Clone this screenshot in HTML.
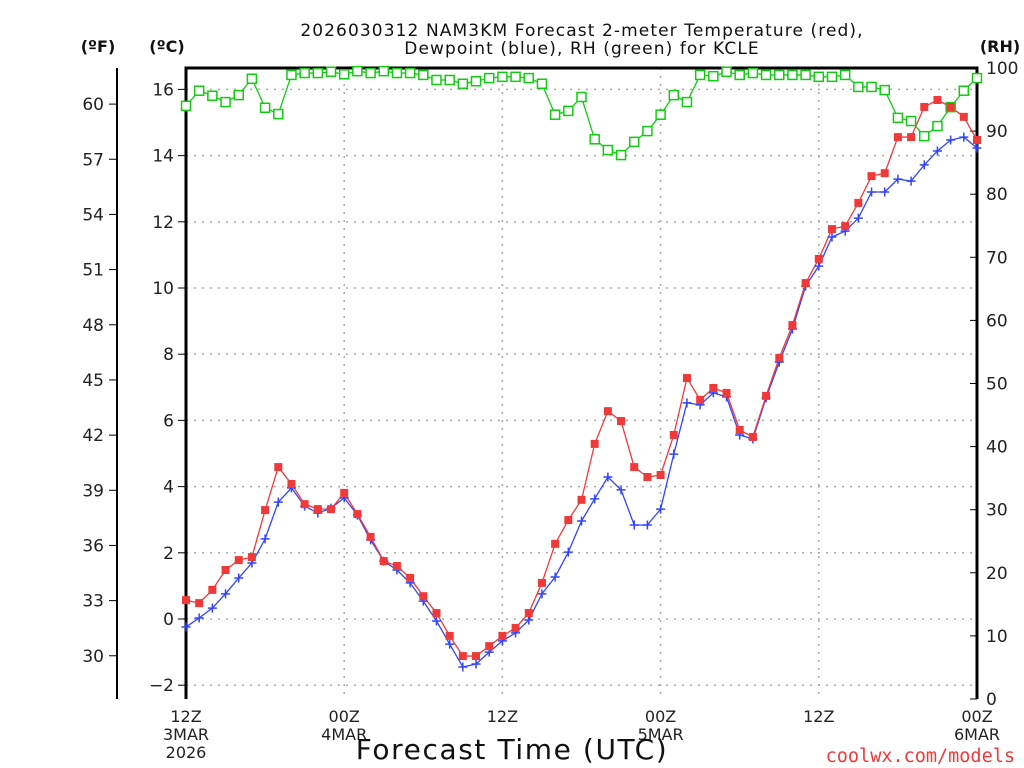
<!DOCTYPE html>
<html><head><meta charset="utf-8"><style>
body{margin:0;background:#fff;width:1024px;height:768px;overflow:hidden}
svg{display:block;font-family:"DejaVu Sans","Liberation Sans",sans-serif}
</style></head><body>
<svg id="c" width="1024" height="768">
<g id="grid"></g><g id="axes"></g><g id="series"></g><g id="labels"></g>
</svg>
<script>
const hours = Array.from({length:61},(_,i)=>i);
const tempC = [0.57,0.48,0.88,1.48,1.78,1.87,3.29,4.59,4.08,3.47,3.32,3.32,3.81,3.17,2.48,1.75,1.6,1.24,0.69,0.18,-0.51,-1.12,-1.12,-0.82,-0.51,-0.27,0.18,1.09,2.27,2.99,3.6,5.29,6.28,5.98,4.59,4.29,4.35,5.56,7.28,6.62,6.98,6.83,5.71,5.5,6.74,7.89,8.88,10.15,10.88,11.78,11.87,12.57,13.38,13.47,14.56,14.56,15.47,15.68,15.47,15.17,14.47];
const dewC = [-0.24,0.03,0.33,0.76,1.24,1.69,2.42,3.53,3.96,3.41,3.2,3.35,3.66,3.14,2.39,1.75,1.48,1.09,0.54,-0.06,-0.76,-1.45,-1.36,-1.0,-0.66,-0.42,-0.03,0.76,1.27,2.02,2.96,3.63,4.29,3.9,2.84,2.84,3.32,4.98,6.53,6.47,6.83,6.71,5.56,5.44,6.68,7.76,8.76,10.06,10.66,11.54,11.72,12.11,12.9,12.9,13.29,13.23,13.72,14.14,14.47,14.56,14.23];
const rh = [94,96.4,95.6,94.6,95.7,98.3,93.7,92.7,98.9,99.2,99.2,99.4,99,99.5,99.2,99.5,99.2,99.2,98.9,98.1,98.1,97.5,97.9,98.4,98.6,98.6,98.4,97.5,92.6,93.2,95.4,88.7,87,86.2,88.3,90,92.6,95.7,94.6,98.9,98.7,99.4,98.9,99.2,98.9,98.9,98.9,98.9,98.6,98.6,98.9,97,97,96.5,92.1,91.6,89.2,90.8,93.8,96.4,98.4];
const cTicks = [-2,0,2,4,6,8,10,12,14,16];
const fTicks = [30,33,36,39,42,45,48,51,54,57,60];
const rhTicks = [0,10,20,30,40,50,60,70,80,90,100];
const xTickHours = [0,12,24,36,48,60];
const xTickLab = ["12Z","00Z","12Z","00Z","12Z","00Z"];
const xTickDate = ["3MAR","4MAR","","5MAR","","6MAR"];

const NS="http://www.w3.org/2000/svg";
const X0=186,X1=977,YT=68,YB=699;
const x=h=>X0+(X1-X0)*h/60;
const yC=c=>619-c*33.1;
const yR=r=>YB-(YB-YT)*r/100;
function mk(p,t,a,txt){const e=document.createElementNS(NS,t);for(const k in a)e.setAttribute(k,a[k]);if(txt!==undefined)e.textContent=txt;document.getElementById(p).appendChild(e);return e;}
cTicks.forEach(c=>{const e=mk('grid','line',{x1:X0,x2:X1,y1:yC(c),y2:yC(c),stroke:'#aaa','stroke-dasharray':'2,6','stroke-width':1.5});

});
[12,24,36,48].forEach(h=>{const e=mk('grid','line',{x1:x(h),x2:x(h),y1:YT,y2:YB,stroke:'#aaa','stroke-dasharray':'2,6','stroke-width':1.5});

});
let e=mk('axes','path',{d:`M${X0},${YB} V${YT} H${X1} V${YB}`,fill:'none',stroke:'#000','stroke-width':3});


e=mk('axes','line',{x1:117,x2:117,y1:YT,y2:YB,stroke:'#000','stroke-width':2});


cTicks.forEach(c=>{mk('axes','line',{x1:X0-8,x2:X0,y1:yC(c),y2:yC(c),stroke:'#000'});
const t=mk('labels','text',{x:X0-12,y:yC(c)+6,'text-anchor':'end','font-size':17,fill:'#222'},c<0?'\u2212'+(-c):c);

});
fTicks.forEach(f=>{const y=yC((f-32)*5/9);mk('axes','line',{x1:109,x2:117,y1:y,y2:y,stroke:'#000'});
const t=mk('labels','text',{x:104,y:y+6,'text-anchor':'end','font-size':17,fill:'#222'},f);

});
rhTicks.forEach(r=>{mk('axes','line',{x1:X1-7,x2:X1,y1:yR(r),y2:yR(r),stroke:'#000'});
const t=mk('labels','text',{x:986,y:yR(r)+6,'font-size':17,fill:'#222'},r);

});
xTickHours.forEach((h,i)=>{const t=mk('labels','text',{x:x(h),y:722,'text-anchor':'middle','font-size':16,fill:'#222'},xTickLab[i]);


if(xTickDate[i]){const d=mk('labels','text',{x:x(h),y:740,'text-anchor':'middle','font-size':16,fill:'#222'},xTickDate[i]);

}});
e=mk('labels','text',{x:x(0),y:758,'text-anchor':'middle','font-size':16,fill:'#222'},'2026');


function line(vals,fy,col,name){const p=mk('series','polyline',{points:vals.map((v,i)=>x(hours[i])+','+fy(v)).join(' '),fill:'none',stroke:col,'stroke-width':1.3});

}
line(rh,yR,'#11cc11','rh-line');
line(dewC,yC,'#3344ff','dewpoint-line');
line(tempC,yC,'#f03a3a','temperature-line');
rh.forEach((v,i)=>{const r=mk('series','rect',{x:x(hours[i])-4.5,y:yR(v)-4.5,width:9,height:9,fill:'#fff',stroke:'#11cc11','stroke-width':1.5});

});
dewC.forEach((v,i)=>{const cx=x(hours[i]),cy=yC(v);const p=mk('series','path',{d:`M${cx-4.5},${cy}H${cx+4.5}M${cx},${cy-4.5}V${cy+4.5}`,stroke:'#3344ff','stroke-width':1.5});

});
tempC.forEach((v,i)=>{const r=mk('series','rect',{x:x(hours[i])-4,y:yC(v)-4,width:8,height:8,fill:'#f03a3a'});

});
</script>
<svg style="position:absolute;left:0;top:0" width="1024" height="768">
<text x="582" y="36" text-anchor="middle" font-size="17" letter-spacing="1.1" fill="#111" font-family="DejaVu Sans, sans-serif">2026030312 NAM3KM Forecast 2-meter Temperature (red),</text>
<text x="582" y="54" text-anchor="middle" font-size="17" letter-spacing="1.1" fill="#111" font-family="DejaVu Sans, sans-serif">Dewpoint (blue), RH (green) for KCLE</text>
<text x="98" y="52" text-anchor="middle" font-size="16" font-weight="bold" fill="#111" font-family="DejaVu Sans, sans-serif">(ºF)</text>
<text x="167" y="52" text-anchor="middle" font-size="16" font-weight="bold" fill="#111" font-family="DejaVu Sans, sans-serif">(ºC)</text>
<text x="1000" y="52" text-anchor="middle" font-size="16" font-weight="bold" fill="#111" font-family="DejaVu Sans, sans-serif">(RH)</text>
<text x="512" y="759" text-anchor="middle" font-size="28" letter-spacing="1.6" fill="#111" font-family="DejaVu Sans, sans-serif">Forecast Time (UTC)</text>
<text x="1015" y="762" text-anchor="end" font-size="18.5" fill="#f03a3a" font-family="DejaVu Sans Mono, Liberation Mono, monospace">coolwx.com/models</text>
</svg>
</body></html>
